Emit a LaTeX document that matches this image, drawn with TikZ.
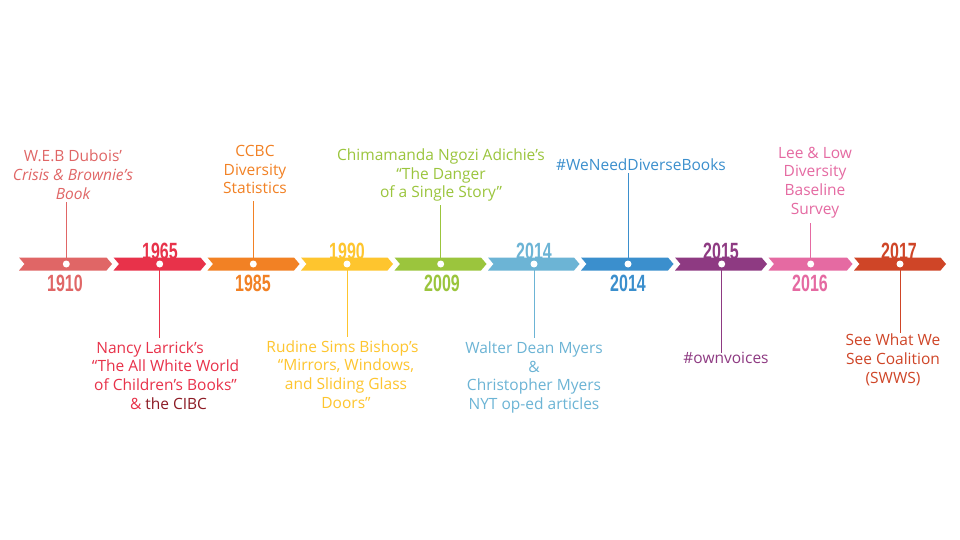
\documentclass[tikz,border=0pt]{standalone}
\usepackage{fontspec}
\setmainfont{Open Sans}
\newfontfamily\yearfont{Liberation Sans}
\definecolor{c1}{HTML}{E06666}
\definecolor{c2}{HTML}{E8324A}
\definecolor{c3}{HTML}{F28124}
\definecolor{c4}{HTML}{FEC52E}
\definecolor{c5}{HTML}{9BC53D}
\definecolor{c6}{HTML}{6CB4D5}
\definecolor{c7}{HTML}{3B8FCD}
\definecolor{c8}{HTML}{8E3A82}
\definecolor{c9}{HTML}{E56AA2}
\definecolor{c10}{HTML}{CF4527}
\definecolor{darkred}{HTML}{8C1A24}
\newcommand{\yr}[1]{\scalebox{0.68}[1]{#1}}
\begin{document}
\begin{tikzpicture}[x=1pt,y=-1pt,
  year/.style={font=\yearfont\bfseries\fontsize{23.5}{24}\selectfont, inner sep=0},
  desc/.style={font=\fontsize{15.5}{18.8}\selectfont, align=center, inner sep=0},
  dot/.style={circle, fill=white, inner sep=0, minimum size=7pt},
  conn/.style={line width=1pt}]
\useasboundingbox (0,0) rectangle (960,540);
\fill[white] (0,0) rectangle (960,540);
% years above (partly behind band)
\node[year, text=c2] (y2) at (160,251.5) {\yr{1965}};
\node[year, text=c4] (y4) at (347,251.5) {\yr{1990}};
\node[year, text=c6] (y6) at (534,251.5) {\yr{2014}};
\node[year, text=c8] (y8) at (721,251.5) {\yr{2015}};
\node[year, text=c10] (y10) at (899,251.5) {\yr{2017}};
% years below
\node[year, text=c1] (y1) at (65,283.5) {\yr{1910}};
\node[year, text=c3] (y3) at (253,283.5) {\yr{1985}};
\node[year, text=c5] (y5) at (442,283.5) {\yr{2009}};
\node[year, text=c7] (y7) at (628,283.5) {\yr{2014}};
\node[year, text=c9] (y9) at (810,283.5) {\yr{2016}};
% band segments
\foreach \xs/\xe/\c in {19/112/c1, 113.5/206/c2, 207.5/299.5/c3, 301/393/c4, 394.5/486.5/c5, 488/579.5/c6, 581/673.5/c7, 675/767/c8, 768.5/852.5/c9, 854/946/c10}{
  \fill[\c] (\xs,257.5) -- (\xe-5.5,257.5) -- (\xe,264) -- (\xe-5.5,270.5) -- (\xs,270.5) -- (\xs+5.5,264) -- cycle;
}
% dots
\node[dot] (d1) at (66.3,264) {};
\node[dot] (d2) at (159.7,264) {};
\node[dot] (d3) at (253.3,264) {};
\node[dot] (d4) at (347,264) {};
\node[dot] (d5) at (440.7,264) {};
\node[dot] (d6) at (534,264) {};
\node[dot] (d7) at (628,264) {};
\node[dot] (d8) at (721.7,264) {};
\node[dot] (d9) at (810.7,264) {};
\node[dot] (d10) at (900,264) {};
% connector ends
\coordinate (e1) at (66.3,202);
\coordinate (e2) at (159.7,338);
\coordinate (e3) at (253.3,201);
\coordinate (e4) at (347,337);
\coordinate (e5) at (440.7,205);
\coordinate (e6) at (534,338);
\coordinate (e7) at (628,173);
\coordinate (e8) at (721.7,353);
\coordinate (e9) at (810.7,223);
\coordinate (e10) at (900,333);
\draw[conn, c1] (d1.north) -- (e1);
\draw[conn, c2] (d2.south) -- (e2);
\draw[conn, c3] (d3.north) -- (e3);
\draw[conn, c4] (d4.south) -- (e4);
\draw[conn, c5] (d5.north) -- (e5);
\draw[conn, c6] (d6.south) -- (e6);
\draw[conn, c7] (d7.north) -- (e7);
\draw[conn, c8] (d8.south) -- (e8);
\draw[conn, c9] (d9.north) -- (e9);
\draw[conn, c10] (d10.south) -- (e10);
% descriptions
\node[desc, text=c1] (t1) at (73,174.5) {W.E.B Dubois’\\\itshape Crisis \& Brownie’s\\\itshape Book};
\node[desc, text=c2] (t2) at (165.5,375.5) {Nancy Larrick’s\hspace*{31pt}\\“The All White World\\of Children’s Books”\\\hspace*{6pt}\& \textcolor{darkred}{the CIBC}};
\node[desc, text=c3] (t3) at (255,169.5) {CCBC\\Diversity\\Statistics};
\node[desc, text=c4] (t4) at (346,374.5) {Rudine Sims Bishop’s\hspace*{7pt}\\“Mirrors, Windows,\\and Sliding Glass\\Doors”};
\node[desc, text=c5] (t5) at (441,175) {Chimamanda Ngozi Adichie’s\\“The Danger\\of a Single Story”};
\node[desc, text=c6] (t6) at (534,377.5) {Walter Dean Myers\\\&\\Christopher Myers\\NYT op-ed articles};
\node[desc, text=c7] (t7) at (641,165) {\#WeNeedDiverseBooks};
\node[desc, text=c8] (t8) at (726,358) {\#ownvoices};
\node[desc, text=c9] (t9) at (815,182.5) {Lee \& Low\\Diversity\\Baseline\\Survey};
\node[desc, text=c10] (t10) at (893,359.7) {See What We\\See Coalition\\(SWWS)};
\end{tikzpicture}
\end{document}
